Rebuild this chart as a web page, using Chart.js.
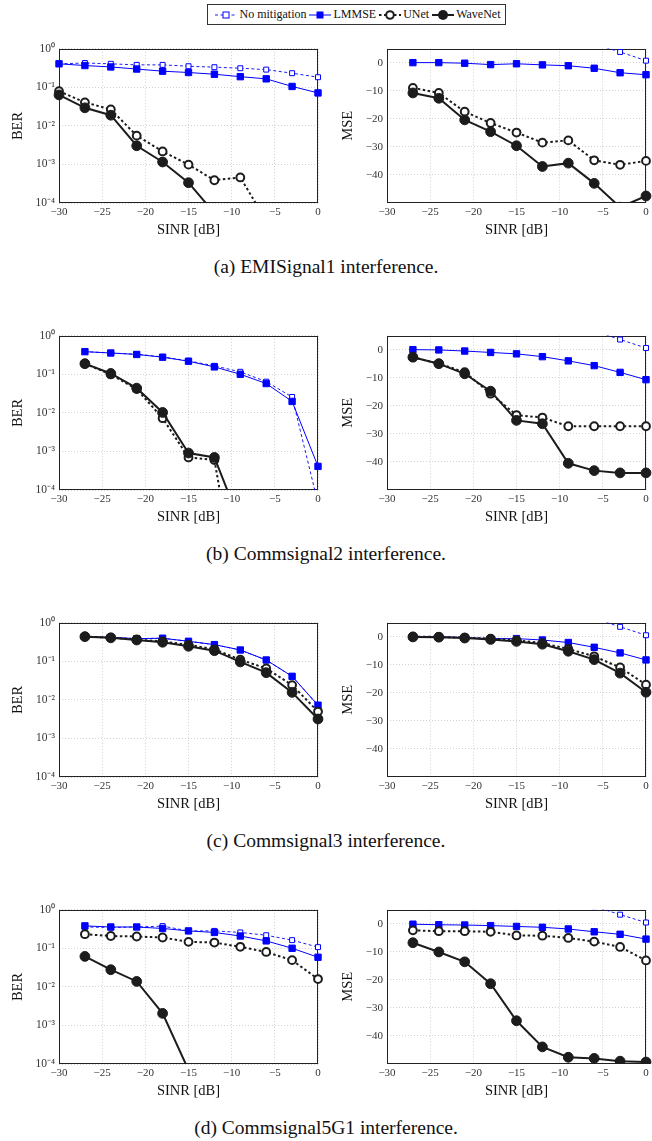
<!DOCTYPE html>
<html><head><meta charset="utf-8">
<script src="https://cdn.jsdelivr.net/npm/chart.js@4.4.1/dist/chart.umd.min.js"></script>
<style>
body{margin:0;background:#fff;width:652px;height:1141px;position:relative;overflow:hidden;font-family:"Liberation Serif","Times New Roman",serif;color:#111;}
canvas{position:absolute;}
.cap{position:absolute;left:0;width:652px;text-align:center;font-family:"Liberation Serif",serif;font-size:19.5px;line-height:20px;height:20px;}
#legend{position:absolute;left:207px;top:4px;width:299px;height:21px;border:1px solid #333;box-sizing:border-box;display:flex;align-items:center;justify-content:center;font-family:"Liberation Serif",serif;font-size:12px;white-space:nowrap;}
#legend span{font-family:"Liberation Serif",serif;}
#legend svg{margin:0 2px 0 3px;}
</style></head><body>
<div id="legend"></div>
<script>
// ---------- data ----------
const seriesNames = ['No mitigation', 'LMMSE', 'UNet', 'WaveNet'];
const sinrA = [-30, -27, -24, -21, -18, -15, -12, -9, -6, -3, 0];
const sinr = [-27, -24, -21, -18, -15, -12, -9, -6, -3, 0];
const sinrTicks = [-30, -25, -20, -15, -10, -5, 0];
const berTickValues = [1e-4, 1e-3, 1e-2, 1e-1, 1];
const berTickLabels = ['10⁻⁴', '10⁻³', '10⁻²', '10⁻¹', '10⁰'];
const mseTicks = [-40, -30, -20, -10, 0];
const captions = ['(a) EMISignal1 interference.', '(b) Commsignal2 interference.', '(c) Commsignal3 interference.', '(d) Commsignal5G1 interference.'];

// (a) EMISignal1
const berA_none = [0.41, 0.43, 0.41, 0.385, 0.385, 0.355, 0.335, 0.315, 0.29, 0.234, 0.184];
const berA_lmmse = [0.41, 0.37, 0.34, 0.30, 0.264, 0.244, 0.22, 0.19, 0.167, 0.106, 0.072];
const berA_unet = [0.08, 0.041, 0.0268, 0.0056, 0.00218, 0.00099, 0.00039, 0.00046, 0.000035, null, null];
const berA_wavenet = [0.064, 0.0296, 0.019, 0.00306, 0.00116, 0.000336, 0.000055, null, null, null, null];
const mseA_none = [27.6, 24.6, 21.6, 18.6, 15.6, 12.6, 9.6, 6.6, 3.8, 0.7];
const mseA_lmmse = [0, 0, -0.2, -0.7, -0.4, -0.8, -1.1, -2.0, -3.6, -4.3];
const mseA_unet = [-9.0, -10.8, -17.5, -21.5, -24.9, -28.5, -27.7, -34.8, -36.4, -35.0];
const mseA_wavenet = [-10.8, -12.7, -20.4, -24.6, -29.6, -37.0, -35.8, -43.0, -51.5, -47.5];

// (b) Commsignal2
const berB_none = [0.39, 0.36, 0.335, 0.285, 0.225, 0.167, 0.117, 0.065, 0.026, 0.000045];
const berB_lmmse = [0.39, 0.36, 0.33, 0.28, 0.22, 0.157, 0.101, 0.058, 0.0199, 0.00041];
const berB_unet = [0.19, 0.10, 0.0415, 0.0073, 0.0007, 0.0006, 0.0000001, null, null, null];
const berB_wavenet = [0.19, 0.106, 0.044, 0.0103, 0.00091, 0.0007, 0.000014, null, null, null];
const mseB_none = [27.6, 24.6, 21.6, 18.6, 15.6, 12.6, 9.6, 6.6, 3.6, 0.6];
const mseB_lmmse = [0, -0.1, -0.5, -1.0, -1.5, -2.5, -4.0, -5.7, -8.1, -10.7];
const mseB_unet = [-2.7, -5.0, -8.0, -15.7, -23.3, -24.2, -27.3, -27.3, -27.3, -27.3];
const mseB_wavenet = [-2.7, -5.0, -8.6, -14.8, -25.2, -26.4, -40.5, -43.1, -43.9, -43.9];

// (c) Commsignal3
const berC_none = [0.44, 0.42, 0.39, 0.40, 0.333, 0.273, 0.198, 0.109, 0.041, 0.0073];
const berC_lmmse = [0.44, 0.42, 0.39, 0.40, 0.333, 0.273, 0.198, 0.109, 0.041, 0.0073];
const berC_unet = [0.44, 0.415, 0.37, 0.33, 0.27, 0.206, 0.111, 0.066, 0.0243, 0.005];
const berC_wavenet = [0.44, 0.41, 0.36, 0.315, 0.247, 0.19, 0.097, 0.051, 0.0157, 0.0032];
const mseC_none = [27.5, 24.5, 21.5, 18.5, 15.5, 12.5, 9.5, 6.5, 3.5, 0.5];
const mseC_lmmse = [0, 0, -0.3, -0.7, -0.7, -1.2, -2.1, -3.8, -5.8, -8.3];
const mseC_unet = [0, -0.1, -0.4, -0.7, -1.3, -2.3, -4.4, -7.0, -11.0, -17.1];
const mseC_wavenet = [-0.1, -0.2, -0.5, -1.0, -1.7, -2.7, -5.2, -8.2, -13.0, -19.8];

// (d) Commsignal5G1
const berD_none = [0.36, 0.35, 0.36, 0.38, 0.285, 0.285, 0.26, 0.22, 0.164, 0.108];
const berD_lmmse = [0.385, 0.36, 0.36, 0.33, 0.285, 0.26, 0.21, 0.157, 0.101, 0.059];
const berD_unet = [0.234, 0.21, 0.204, 0.192, 0.148, 0.142, 0.11, 0.081, 0.0496, 0.016];
const berD_wavenet = [0.062, 0.028, 0.0139, 0.00206, 0.00007, null, null, null, null, null];
const mseD_none = [27.2, 24.2, 21.2, 18.2, 15.2, 12.2, 9.2, 6.2, 3.2, 0.4];
const mseD_lmmse = [-0.2, -0.4, -0.5, -0.7, -1.0, -1.3, -1.9, -2.9, -3.8, -5.5];
const mseD_unet = [-2.4, -2.7, -2.7, -2.9, -4.2, -4.3, -5.1, -6.4, -8.3, -13.1];
const mseD_wavenet = [-6.8, -10.1, -13.6, -21.4, -34.6, -43.9, -47.6, -48.0, -49.0, -49.3];

// ---------- styles ----------
const FONT = '"Liberation Serif", serif';
const BLUE = '#0000ff', BLK = '#1c1c1c';
const styles = [
  {borderColor: BLUE, borderWidth: 0.9, borderDash: [3, 2.5], pointStyle: 'rect', pointRadius: 3.5, pointBorderWidth: 1, pointBackgroundColor: '#fff', pointBorderColor: BLUE, order: 3},
  {borderColor: BLUE, borderWidth: 1, borderDash: [], pointStyle: 'rect', pointRadius: 4.5, pointBorderWidth: 1, pointBackgroundColor: BLUE, pointBorderColor: BLUE, order: 2},
  {borderColor: BLK, borderWidth: 2, borderDash: [2.5, 2.5], pointStyle: 'circle', pointRadius: 3.9, pointBorderWidth: 2, pointBackgroundColor: '#fff', pointBorderColor: BLK, order: 1},
  {borderColor: BLK, borderWidth: 2, borderDash: [], pointStyle: 'circle', pointRadius: 4.9, pointBorderWidth: 1, pointBackgroundColor: BLK, pointBorderColor: BLK, order: 0}
];

// legend
const legendIcons = [
  '<svg width="22" height="12"><line x1="0" y1="6" x2="22" y2="6" stroke="#00f" stroke-width="0.9" stroke-dasharray="3 2.5"/><rect x="8" y="3" width="6" height="6" fill="#fff" stroke="#00f" stroke-width="1"/></svg>',
  '<svg width="22" height="12"><line x1="0" y1="6" x2="22" y2="6" stroke="#00f" stroke-width="1"/><rect x="7.5" y="2.5" width="7" height="7" fill="#00f"/></svg>',
  '<svg width="22" height="12"><line x1="0" y1="6" x2="22" y2="6" stroke="#1c1c1c" stroke-width="2" stroke-dasharray="2.5 2.5"/><circle cx="11" cy="6" r="3.8" fill="#fff" stroke="#1c1c1c" stroke-width="2"/></svg>',
  '<svg width="22" height="12"><line x1="0" y1="6" x2="22" y2="6" stroke="#1c1c1c" stroke-width="2"/><circle cx="11" cy="6" r="5" fill="#1c1c1c"/></svg>'
];
document.getElementById('legend').innerHTML = seriesNames.map((n, i) => legendIcons[i] + '<span>' + n + '</span>').join('');

const framePlugin = {
  id: 'frame',
  beforeDatasetsDraw(chart) {
    const {ctx, chartArea: a} = chart;
    ctx.save();
    ctx.strokeStyle = '#222';
    ctx.lineWidth = 1;
    ctx.setLineDash([]);
    ctx.strokeRect(Math.round(a.left) + 0.5, Math.round(a.top) + 0.5, Math.round(a.right - a.left) - 1, Math.round(a.bottom - a.top) - 1);
    ctx.restore();
  }
};

const minus = v => (v < 0 ? '\u2212' + Math.abs(v) : String(v));

function makeChart(left, top, kind, xs, series) {
  const isLeft = kind === 'ber';
  const W = isLeft ? 330 : 322, H = 205;
  const cv = document.createElement('canvas');
  cv.width = W; cv.height = H;
  cv.style.left = left + 'px'; cv.style.top = top + 'px';
  cv.style.width = W + 'px'; cv.style.height = H + 'px';
  document.body.appendChild(cv);
  const datasets = series.map((vals, i) => Object.assign({
    label: seriesNames[i],
    data: xs.map((x, j) => ({x: x, y: vals[j]})),
    fill: false,
    tension: 0,
    spanGaps: false,
    clip: {left: 8, right: 8, top: 0, bottom: 0}
  }, styles[i]));
  const gridCommon = {color: '#c4c4c4', lineWidth: 0.8, drawTicks: false, borderDash: [1, 2]};
  const yScale = kind === 'ber' ? {
    type: 'logarithmic', min: 1e-4, max: 1,
    afterBuildTicks: s => { s.ticks = berTickValues.map(v => ({value: v})); },
    ticks: {callback: (v, idx) => berTickLabels[idx], font: {family: FONT, size: 11.5}, color: '#333', padding: 4, autoSkip: false}
  } : {
    type: 'linear', min: -50, max: 5,
    afterBuildTicks: s => { s.ticks = mseTicks.map(v => ({value: v})); },
    ticks: {callback: v => minus(v), font: {family: FONT, size: 11}, color: '#333', padding: 4, autoSkip: false}
  };
  Object.assign(yScale, {
    grid: gridCommon,
    border: {display: false, dash: [1, 2]},
    title: {display: true, text: kind === 'ber' ? 'BER' : 'MSE', font: {family: FONT, size: 14.5}, color: '#111', padding: {top: 9.3, bottom: 0}},
    afterFit: s => { s.width = isLeft ? 59 : 57; }
  });
  new Chart(cv, {
    type: 'line',
    data: {datasets},
    options: {
      responsive: false, animation: false, events: [],
      layout: {padding: {top: 10, right: isLeft ? 12 : 6, bottom: 0, left: 0}},
      plugins: {legend: {display: false}, tooltip: {enabled: false}},
      scales: {
        x: {
          type: 'linear', min: -30, max: 0,
          afterBuildTicks: s => { s.ticks = sinrTicks.map(v => ({value: v})); },
          ticks: {callback: v => minus(v), font: {family: FONT, size: 11}, color: '#333', padding: 3, autoSkip: false, maxRotation: 0},
          grid: gridCommon,
          border: {display: false, dash: [1, 2]},
          title: {display: true, text: 'SINR [dB]', font: {family: FONT, size: 14.5}, color: '#111', padding: {top: 0, bottom: 4}},
          afterFit: s => { s.height = 40; }
        },
        y: yScale
      }
    },
    plugins: [framePlugin]
  });
}

const rowTops = [48, 335, 622, 909];
const berRows = [
  [sinrA, [berA_none, berA_lmmse, berA_unet, berA_wavenet]],
  [sinr, [berB_none, berB_lmmse, berB_unet, berB_wavenet]],
  [sinr, [berC_none, berC_lmmse, berC_unet, berC_wavenet]],
  [sinr, [berD_none, berD_lmmse, berD_unet, berD_wavenet]]
];
const mseRows = [
  [mseA_none, mseA_lmmse, mseA_unet, mseA_wavenet],
  [mseB_none, mseB_lmmse, mseB_unet, mseB_wavenet],
  [mseC_none, mseC_lmmse, mseC_unet, mseC_wavenet],
  [mseD_none, mseD_lmmse, mseD_unet, mseD_wavenet]
];
rowTops.forEach((t, r) => {
  makeChart(0, t - 10, 'ber', berRows[r][0], berRows[r][1]);
  makeChart(330, t - 10, 'mse', sinr, mseRows[r]);
  const c = document.createElement('div');
  c.className = 'cap';
  c.textContent = captions[r];
  c.style.top = (t + 155 + 64 - 10) + 'px';
  document.body.appendChild(c);
});
</script>
</body></html>
